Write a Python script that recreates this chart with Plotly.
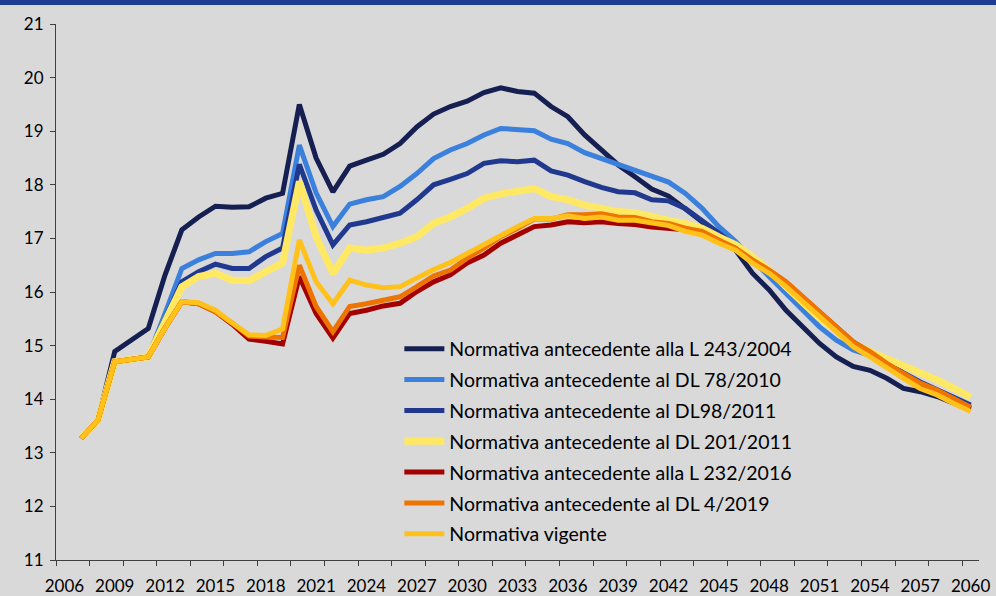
import plotly.graph_objects as go

years = list(range(2007, 2061))

# spesa pensionistica in rapporto al PIL (%)
l_243_2004 = [
    13.27, 13.61, 14.89, 15.10, 15.32, 16.32, 17.16, 17.40, 17.60, 17.58,
    17.59, 17.75, 17.84, 19.50, 18.50, 17.87, 18.35, 18.46, 18.57, 18.77,
    19.08, 19.32, 19.46, 19.56, 19.72, 19.81, 19.74, 19.71, 19.46, 19.27,
    18.93, 18.65, 18.37, 18.15, 17.92, 17.79, 17.56, 17.31, 17.03, 16.78,
    16.35, 16.04, 15.66, 15.35, 15.04, 14.79, 14.61, 14.54, 14.39, 14.20,
    14.14, 14.05, 13.92, 13.80,
]
dl_78_2010 = [
    13.27, 13.61, 14.70, 14.75, 14.79, 15.60, 16.44, 16.60, 16.72, 16.72,
    16.75, 16.94, 17.09, 18.74, 17.85, 17.22, 17.64, 17.72, 17.78, 17.97,
    18.21, 18.49, 18.65, 18.77, 18.93, 19.05, 19.02, 19.01, 18.85, 18.77,
    18.60, 18.49, 18.37, 18.26, 18.14, 18.05, 17.84, 17.56, 17.22, 16.94,
    16.60, 16.29, 15.98, 15.66, 15.35, 15.10, 14.92, 14.82, 14.68, 14.48,
    14.30, 14.16, 14.00, 13.85,
]
dl_98_2011 = [
    13.27, 13.61, 14.70, 14.75, 14.79, 15.50, 16.19, 16.38, 16.52, 16.44,
    16.44, 16.66, 16.82, 18.38, 17.53, 16.88, 17.25, 17.31, 17.38, 17.47,
    17.72, 18.00, 18.10, 18.21, 18.40, 18.45, 18.43, 18.46, 18.26, 18.18,
    18.06, 17.95, 17.87, 17.85, 17.72, 17.70, 17.56, 17.34, 17.10, 16.85,
    16.60, 16.38, 16.14, 15.87, 15.57, 15.30, 15.05, 14.86, 14.68, 14.49,
    14.32, 14.18, 14.03, 13.89,
]
dl_201_2011 = [
    13.27, 13.61, 14.70, 14.75, 14.79, 15.45, 16.10, 16.29, 16.35, 16.22,
    16.21, 16.38, 16.54, 18.06, 17.03, 16.35, 16.82, 16.78, 16.82, 16.91,
    17.03, 17.28, 17.40, 17.56, 17.75, 17.83, 17.87, 17.93, 17.78, 17.72,
    17.62, 17.56, 17.50, 17.48, 17.40, 17.34, 17.28, 17.19, 17.03, 16.88,
    16.66, 16.41, 16.10, 15.82, 15.51, 15.29, 15.04, 14.89, 14.76, 14.61,
    14.48, 14.36, 14.20, 14.04,
]
l_232_2016 = [
    13.27, 13.61, 14.70, 14.75, 14.79, 15.33, 15.82, 15.78, 15.63, 15.40,
    15.12, 15.08, 15.03, 16.29, 15.60, 15.14, 15.60, 15.66, 15.74, 15.79,
    16.01, 16.19, 16.32, 16.54, 16.69, 16.91, 17.06, 17.22, 17.25, 17.31,
    17.29, 17.31, 17.28, 17.26, 17.21, 17.19, 17.16, 17.10, 16.95, 16.80,
    16.58, 16.40, 16.18, 15.90, 15.60, 15.32, 15.07, 14.88, 14.66, 14.47,
    14.29, 14.15, 14.00, 13.83,
]
dl_4_2019 = [
    13.27, 13.61, 14.70, 14.75, 14.79, 15.33, 15.82, 15.78, 15.63, 15.42,
    15.18, 15.16, 15.15, 16.50, 15.73, 15.26, 15.73, 15.78, 15.85, 15.91,
    16.10, 16.30, 16.41, 16.63, 16.82, 17.03, 17.19, 17.36, 17.36, 17.44,
    17.44, 17.46, 17.40, 17.39, 17.31, 17.28, 17.19, 17.13, 16.97, 16.82,
    16.60, 16.41, 16.19, 15.91, 15.60, 15.32, 15.07, 14.89, 14.67, 14.48,
    14.30, 14.17, 14.02, 13.85,
]
vigente = [
    13.27, 13.61, 14.70, 14.75, 14.79, 15.33, 15.82, 15.80, 15.66, 15.42,
    15.20, 15.19, 15.31, 16.97, 16.19, 15.78, 16.22, 16.13, 16.08, 16.10,
    16.26, 16.42, 16.55, 16.72, 16.88, 17.06, 17.22, 17.37, 17.37, 17.42,
    17.37, 17.40, 17.34, 17.34, 17.29, 17.24, 17.13, 17.06, 16.91, 16.78,
    16.54, 16.35, 16.10, 15.82, 15.51, 15.23, 14.98, 14.79, 14.58, 14.39,
    14.20, 14.08, 13.92, 13.77,
]

series = [
    ("Normativa antecedente alla L 243/2004", l_243_2004, "#161F52", 5),
    ("Normativa antecedente al DL 78/2010", dl_78_2010, "#3A80DC", 5),
    ("Normativa antecedente al DL98/2011", dl_98_2011, "#20398F", 5),
    ("Normativa antecedente al DL 201/2011", dl_201_2011, "#FFE964", 7),
    ("Normativa antecedente alla L 232/2016", l_232_2016, "#A30000", 5),
    ("Normativa antecedente al DL 4/2019", dl_4_2019, "#EE7400", 5),
    ("Normativa vigente", vigente, "#FFC11A", 5),
]

fig = go.Figure()
for name, vals, color, w in series:
    fig.add_trace(go.Scatter(
        x=years, y=vals, name=name, mode="lines",
        legendgroup=name,
        line=dict(color=color, width=w),
    ))

fig.update_layout(
    width=996, height=596,
    margin=dict(l=56, r=17, t=24, b=36),
    paper_bgcolor="#D9D9D9",
    plot_bgcolor="#D9D9D9",
    font=dict(family="Lato, sans-serif", size=17, color="#000000"),
    showlegend=True,
    legend=dict(
        x=0.372, y=0.430, xanchor="left", yanchor="top",
        bgcolor="rgba(0,0,0,0)",
        font=dict(size=19.5),
        traceorder="grouped",
        tracegroupgap=2.5,
        itemwidth=40,
    ),
    shapes=[dict(
        type="rect", xref="paper", yref="paper",
        x0=-0.1, x1=1.1, y0=1.0354, y1=1.06,
        fillcolor="#1F3A93", line=dict(width=0),
    )],
)

fig.update_xaxes(
    range=[2005.5, 2060.5],
    tickvals=list(range(2006, 2061, 3)),
    ticks="",
    ticklabelstandoff=11,
    automargin=False,
    showgrid=False, zeroline=False,
    showline=True, linecolor="#404040", linewidth=1,
    minor=dict(ticks="outside", tick0=2005.5, dtick=2, ticklen=5,
               tickcolor="#404040", showgrid=False),
)
fig.update_yaxes(
    range=[11, 21], dtick=1,
    ticks="outside", ticklen=5, tickcolor="#404040",
    ticklabelstandoff=3,
    automargin=False,
    showgrid=False, zeroline=False,
    showline=True, linecolor="#404040", linewidth=1,
)

# il body della pagina ha un margine di default: lo azzero
fig.write_html(
    "out.html",
    config={"displayModeBar": False},
    post_script="document.body.style.margin='0px';",
)
